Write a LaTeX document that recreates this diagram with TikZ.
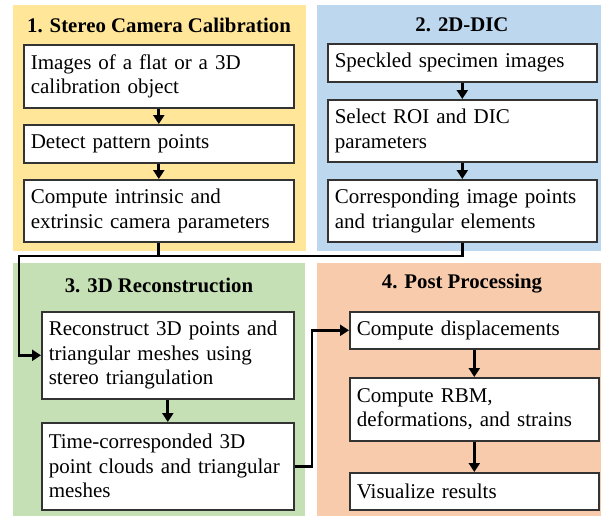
\documentclass[tikz,border=0pt]{standalone}
\usepackage{fontspec}
\setmainfont{Liberation Serif}
\usetikzlibrary{arrows.meta}
\definecolor{pyellow}{HTML}{FFE699}
\definecolor{pblue}{HTML}{BDD7EE}
\definecolor{pgreen}{HTML}{C5E0B4}
\definecolor{porange}{HTML}{F8CBAD}
\definecolor{bordergray}{HTML}{333333}
\begin{document}
\begin{tikzpicture}[x=1pt,y=-1pt,
  ptitle/.style={font=\fontsize{20.8}{24.5}\selectfont\bfseries, inner sep=0pt},
  stepbox/.style={draw=bordergray, line width=1.6pt, fill=white, anchor=north west,
    inner xsep=7pt, inner ysep=0pt, align=left,
    font=\fontsize{21}{24.5}\selectfont},
  conn/.style={line width=2.8pt, -{Triangle[length=9pt,width=11pt]}},
  plain/.style={line width=2.8pt}
]
\useasboundingbox (0,0) rectangle (604,517);
% panels
\fill[pyellow] (13,5) rectangle (306,251);
\fill[pblue] (317,5) rectangle (601,251);
\fill[pgreen] (13,263) rectangle (305,516);
\fill[porange] (317,263) rectangle (601,516);
% titles
\node[ptitle] (t1) at (159,25) {1. Stereo Camera Calibration};
\node[ptitle] (t2) at (462,25) {2. 2D-DIC};
\node[ptitle] (t3) at (159,285) {3. 3D Reconstruction};
\node[ptitle] (t4) at (462,284) {4. Post Processing};
% panel 1
\node[stepbox, minimum width=270pt, minimum height=63pt, text width=256pt] (A) at (23,44)
  {Images of a flat or a 3D\\calibration object};
\node[stepbox, minimum width=270pt, minimum height=38pt, text width=256pt] (B) at (23,124)
  {Detect pattern points};
\node[stepbox, minimum width=270pt, minimum height=62pt, text width=256pt] (C) at (23,179)
  {Compute intrinsic and\\extrinsic camera parameters};
% panel 2
\node[stepbox, minimum width=269pt, minimum height=38pt, text width=255pt] (D) at (327,43)
  {Speckled specimen images};
\node[stepbox, minimum width=269pt, minimum height=62pt, text width=255pt] (E) at (327,99)
  {Select ROI and DIC\\parameters};
\node[stepbox, minimum width=269pt, minimum height=62pt, text width=255pt] (F) at (327,179)
  {Corresponding image points\\and triangular elements};
% panel 3
\node[stepbox, minimum width=252pt, minimum height=87pt, text width=238pt] (G) at (41,311)
  {Reconstruct 3D points and\\triangular meshes using\\stereo triangulation};
\node[stepbox, minimum width=252pt, minimum height=87pt, text width=238pt] (H) at (41,422)
  {Time-corresponded 3D\\point clouds and triangular\\meshes};
% panel 4
\node[stepbox, minimum width=249pt, minimum height=37pt, text width=235pt] (I) at (349,311)
  {Compute displacements};
\node[stepbox, minimum width=249pt, minimum height=63pt, text width=235pt] (J) at (349,377)
  {Compute RBM,\\deformations, and strains};
\node[stepbox, minimum width=249pt, minimum height=37pt, text width=235pt] (K) at (349,472)
  {Visualize results};
% in-panel arrows
\draw[conn] (A.south) -- (B.north);
\draw[conn] (B.south) -- (C.north);
\draw[conn] (D.south) -- (E.north);
\draw[conn] (E.south) -- (F.north);
\draw[conn] (G.south) -- (H.north);
\draw[conn] (I.south) -- (J.north);
\draw[conn] (J.south) -- (K.north);
% cross-panel connectors
\coordinate (j1) at (19,256);
\draw[plain] (C.south) -- (C.south |- j1);
\draw[conn] (F.south) |- (j1) |- (G.west);
\coordinate (j2) at (312,466);
\draw[conn] (H.east) -- (H.east -| j2) |- (I.west);
\end{tikzpicture}
\end{document}
